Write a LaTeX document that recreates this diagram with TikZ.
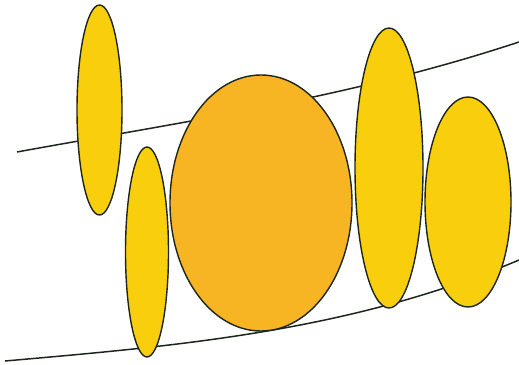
\documentclass[tikz,border=0pt]{standalone}
\usetikzlibrary{backgrounds}
\definecolor{cyellow}{HTML}{F9CE0C}
\definecolor{corange}{HTML}{F7B523}
\definecolor{cline}{HTML}{1C261C}
\tikzset{
  every picture/.style={line width=1.5pt},
  blob/.style={draw=cline, fill=#1, line width=1.4pt},
  blob/.default=cyellow,
  rail/.style={draw=cline, line width=1.5pt},
}

\begin{document}
\begin{tikzpicture}[x=1pt, y=-1pt]
  \useasboundingbox (0,0) rectangle (519,364);
  % ---------- the two curves behind ----------
  \draw[rail] (17,152) .. controls (187,121) and (349,98) .. (519,42);
  \draw[rail] (5,361) .. controls (175,346) and (349,332) .. (519,260);
  % ---------- the ellipses ----------
  \filldraw[blob] (99.5,110) ellipse [x radius=22.5, y radius=105];
  \filldraw[blob] (147,252) ellipse [x radius=21.5, y radius=105];
  \filldraw[blob=corange] (261,203) ellipse [x radius=91, y radius=128];
  \filldraw[blob] (389,168) ellipse [x radius=34, y radius=140];
  \filldraw[blob] (468,202) ellipse [x radius=43, y radius=105];
\end{tikzpicture}
\end{document}
